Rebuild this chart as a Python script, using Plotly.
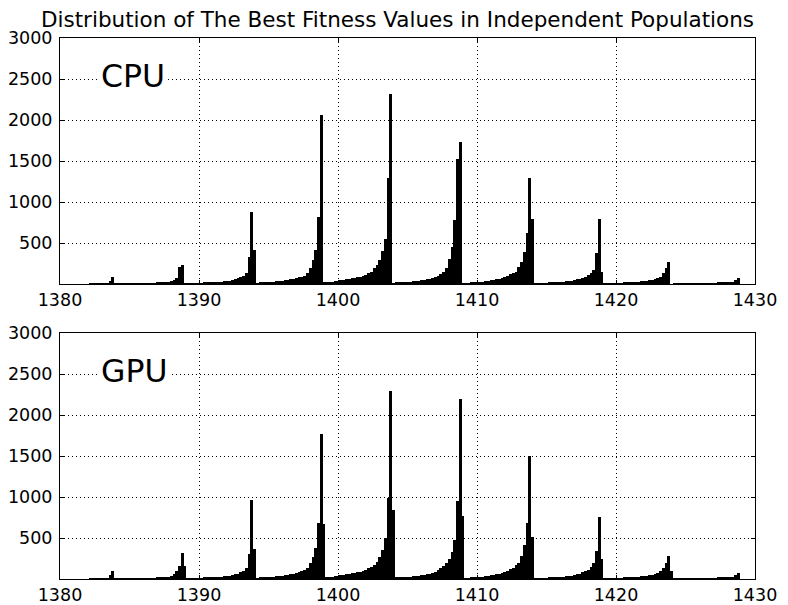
import numpy as np
import plotly.graph_objects as go

# Histogram counts, bins of width 0.2. Each block lists 25 bins ending just after a peak:
# bin centers from (peak - 4.6) to (peak + 0.2)
peaks = [1383.8, 1388.8, 1393.8, 1398.8, 1403.8, 1408.8, 1413.8, 1418.8, 1423.8, 1428.8]
bin_width = 0.2

cpu_1384 = [0, 0, 0, 0, 0, 0, 0, 0, 0, 0, 0, 0, 0, 0, 0, 1, 2, 3, 4, 6, 8, 12, 40, 85, 5]
cpu_1389 = [2, 2, 3, 3, 4, 4, 5, 5, 6, 7, 8, 9, 10, 12, 14, 16, 18, 22, 28, 35, 45, 70, 210, 230, 10]
cpu_1394 = [5, 6, 8, 9, 10, 12, 13, 15, 17, 19, 21, 24, 27, 31, 35, 40, 48, 55, 69, 80, 98, 134, 333, 874, 415]
cpu_1399 = [12, 14, 17, 20, 24, 27, 30, 33, 37, 40, 45, 49, 55, 62, 73, 80, 89, 100, 134, 195, 293, 415, 817, 2060, 30]
cpu_1404 = [20, 25, 30, 35, 40, 45, 50, 55, 60, 68, 75, 85, 90, 100, 110, 130, 150, 190, 230, 290, 400, 550, 1296, 2313, 10]
cpu_1409 = [18, 20, 22, 25, 28, 30, 33, 36, 40, 45, 50, 57, 65, 75, 89, 100, 120, 150, 200, 300, 450, 780, 1520, 1730, 5]
cpu_1414 = [10, 12, 16, 20, 24, 26, 30, 36, 40, 45, 50, 57, 62, 75, 89, 100, 118, 130, 150, 211, 272, 394, 626, 1296, 793]
cpu_1419 = [6, 7, 8, 10, 12, 14, 16, 19, 22, 25, 28, 32, 36, 42, 48, 55, 65, 75, 90, 110, 130, 171, 378, 793, 150]
cpu_1424 = [4, 5, 6, 7, 8, 10, 12, 14, 16, 19, 22, 25, 28, 32, 36, 40, 45, 50, 57, 70, 89, 134, 191, 265, 0]
cpu_1429 = [1, 1, 2, 2, 2, 3, 3, 4, 4, 5, 6, 7, 8, 9, 10, 11, 13, 15, 17, 20, 24, 30, 49, 77, 0]

gpu_1384 = [0, 0, 0, 0, 0, 0, 0, 0, 0, 0, 0, 0, 0, 0, 0, 1, 2, 3, 4, 6, 8, 12, 45, 98, 5]
gpu_1389 = [2, 2, 3, 3, 4, 4, 5, 5, 6, 7, 8, 9, 10, 12, 14, 17, 20, 25, 30, 40, 60, 100, 160, 317, 160]
gpu_1394 = [5, 6, 8, 9, 10, 12, 13, 15, 17, 19, 21, 24, 27, 31, 35, 40, 48, 55, 65, 80, 100, 130, 300, 963, 366]
gpu_1399 = [12, 14, 17, 20, 24, 27, 30, 33, 37, 40, 45, 50, 56, 64, 72, 80, 95, 110, 140, 190, 270, 380, 680, 1768, 670]
gpu_1404 = [20, 25, 30, 35, 40, 45, 50, 55, 60, 68, 75, 82, 88, 98, 115, 134, 150, 171, 211, 272, 354, 500, 984, 2296, 841]
gpu_1409 = [18, 20, 22, 25, 28, 30, 33, 36, 40, 45, 50, 57, 65, 75, 89, 115, 130, 160, 190, 250, 330, 480, 955, 2195, 768]
gpu_1414 = [10, 12, 16, 20, 24, 26, 28, 35, 41, 45, 50, 57, 65, 77, 89, 100, 118, 130, 171, 191, 285, 415, 687, 1500, 516]
gpu_1419 = [6, 7, 8, 10, 12, 14, 16, 19, 22, 25, 28, 32, 36, 42, 48, 55, 65, 80, 95, 115, 150, 200, 341, 756, 240]
gpu_1424 = [4, 5, 6, 7, 8, 10, 12, 14, 16, 19, 22, 25, 28, 32, 36, 40, 45, 50, 57, 70, 95, 140, 200, 280, 100]
gpu_1429 = [1, 1, 2, 2, 2, 3, 3, 4, 4, 5, 6, 7, 8, 9, 10, 11, 13, 15, 17, 20, 24, 30, 45, 70, 0]

cpu_blocks = [cpu_1384, cpu_1389, cpu_1394, cpu_1399, cpu_1404, cpu_1409, cpu_1414, cpu_1419, cpu_1424, cpu_1429]
gpu_blocks = [gpu_1384, gpu_1389, gpu_1394, gpu_1399, gpu_1404, gpu_1409, gpu_1414, gpu_1419, gpu_1424, gpu_1429]

x_ticks = [1380, 1390, 1400, 1410, 1420, 1430]
y_ticks = [500, 1000, 1500, 2000, 2500, 3000]
panel_labels = ["CPU", "GPU"]
title_text = "Distribution of The Best Fitness Values in Independent Populations"


def expand(blocks):
    xs, ys = [], []
    for p, blk in zip(peaks, blocks):
        for i, v in enumerate(blk):
            xs.append(round(p + bin_width * (i - 23), 2))
            ys.append(v)
    return xs, ys


# the page places the figure 8px in from the top-left corner (default body margin)
OFF = 8
W, H = 780, 597
L, R, T, B = 59.5 - OFF, W - (755 - OFF), 38 - OFF, H - (579 - OFF)
ph = H - T - B
fig = go.Figure()

FONT = "DejaVu Sans"
y_doms = [[1 - (284 - 38) / ph, 1.0], [0.0, 1 - (333 - 38) / ph]]

for k, blocks in enumerate([cpu_blocks, gpu_blocks]):
    xs, ys = expand(blocks)
    xa = "x" if k == 0 else "x2"
    ya = "y" if k == 0 else "y2"
    fig.add_trace(go.Bar(x=xs, y=ys, width=bin_width, marker=dict(color="black", line=dict(width=0)),
                         xaxis=xa, yaxis=ya, showlegend=False, hoverinfo="skip"))
    axis_common = dict(showline=True, linecolor="black", linewidth=1, mirror="ticks",
                       ticks="inside", ticklen=4, tickcolor="black", automargin=False,
                       showgrid=True, gridcolor="black", griddash="1px,3px", gridwidth=1,
                       zeroline=False, tickfont=dict(family=FONT, size=17.5, color="black"))
    xkey = "xaxis" if k == 0 else "xaxis2"
    ykey = "yaxis" if k == 0 else "yaxis2"
    fig.update_layout(**{
        xkey: dict(domain=[0, 1], range=[1380, 1430], tickvals=x_ticks, anchor=ya, **axis_common),
        ykey: dict(domain=y_doms[k], range=[0, 3000], tickvals=y_ticks, anchor=xa,
                   ticklabelstandoff=3, **axis_common),
    })
    fig.add_annotation(x=1382.75, y=2540, xref=xa, yref=ya, text=panel_labels[k], showarrow=False,
                       xanchor="left", yanchor="middle", bgcolor="white", borderpad=2,
                       font=dict(family=FONT, size=31.5, color="black"))

fig.update_layout(
    title=dict(text=title_text, x=(397.5 - OFF) / W, y=1 - (19 - OFF) / H, xref="container", yref="container",
               xanchor="center", yanchor="middle", font=dict(family=FONT, size=21.5, color="black")),
    width=W, height=H, margin=dict(l=L, r=R, t=T, b=B, autoexpand=False),
    paper_bgcolor="white", plot_bgcolor="white", bargap=0)

fig.write_html("out.html")
